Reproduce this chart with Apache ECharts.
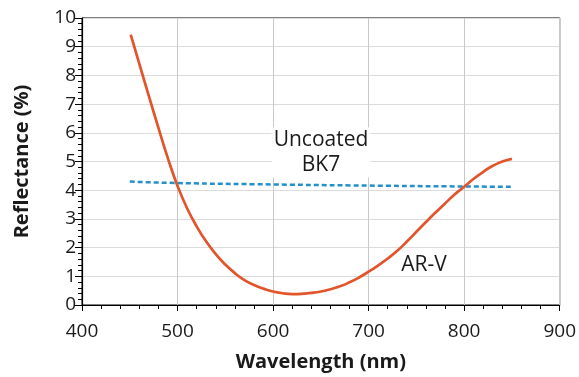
<!DOCTYPE html>
<html><head><meta charset="utf-8">
<script src="https://cdn.jsdelivr.net/npm/echarts@6/dist/echarts.min.js"></script>
<style>html,body{margin:0;padding:0;background:#fff}#c{width:579px;height:377px}</style>
</head><body><div id="c"></div>
<script>
const arvWavelength = [451,460,470,480,490,500,510,520,530,540,550,560,570,580,590,600,610,620,630,640,650,660,670,680,690,700,710,720,730,740,750,760,770,780,790,800,810,820,830,840,850];
const arvReflectance = [9.42,8.4,7.28,6.17,5.1,4.15,3.37,2.74,2.21,1.77,1.41,1.11,0.87,0.7,0.57,0.47,0.41,0.38,0.39,0.42,0.47,0.55,0.65,0.79,0.96,1.16,1.38,1.62,1.89,2.21,2.55,2.89,3.22,3.54,3.85,4.12,4.4,4.64,4.85,5.0,5.09];
const bk7Wavelength = [450,500,600,700,800,850];
const bk7Reflectance = [4.30,4.25,4.20,4.16,4.13,4.12];
const xTicks = [400,500,600,700,800,900];
const yTicks = [0,1,2,3,4,5,6,7,8,9,10];

const font = "'Open Sans', 'Noto Sans', sans-serif";
const chart = echarts.init(document.getElementById('c'));
chart.setOption({
  animation: false,
  grid: {left: 82, right: 18, top: 18, bottom: 70, show: true, borderColor: '#000', borderWidth: 1},
  xAxis: {
    type: 'value', min: xTicks[0], max: xTicks[xTicks.length-1], interval: 100,
    name: 'Wavelength (nm)', nameLocation: 'middle', nameGap: 47,
    nameTextStyle: {fontFamily: font, fontSize: 20, fontWeight: 'bold', color: '#1a1a1a'},
    axisLine: {lineStyle: {color: '#000', width: 1.2}},
    axisTick: {length: 6, lineStyle: {color: '#000'}},
    minorTick: {show: true, splitNumber: 5, length: 4, lineStyle: {color: '#000'}},
    axisLabel: {fontFamily: font, fontSize: 19, color: '#1a1a1a', margin: 17},
    splitLine: {show: true, lineStyle: {color: '#c9c9c9', width: 1}}
  },
  yAxis: {
    type: 'value', min: yTicks[0], max: yTicks[yTicks.length-1], interval: 1,
    name: 'Reflectance (%)', nameLocation: 'middle', nameGap: 50,
    nameTextStyle: {fontFamily: font, fontSize: 20, fontWeight: 'bold', color: '#1a1a1a'},
    axisLine: {show: true, lineStyle: {color: '#000', width: 1.2}},
    axisTick: {show: true, length: 7, lineStyle: {color: '#000'}},
    minorTick: {show: true, splitNumber: 5, length: 4, lineStyle: {color: '#000'}},
    axisLabel: {fontFamily: font, fontSize: 19, color: '#1a1a1a', margin: 6},
    splitLine: {show: true, lineStyle: {color: '#dcdcdc', width: 1}}
  },
  series: [
    {type: 'line', name: 'Uncoated BK7', data: bk7Wavelength.map((w,i)=>[w,bk7Reflectance[i]]),
     showSymbol: false, smooth: true, lineStyle: {color: '#2390c9', width: 2.5, type: [5,3]}, z: 3},
    {type: 'line', name: 'AR-V', data: arvWavelength.map((w,i)=>[w,arvReflectance[i]]),
     showSymbol: false, smooth: true, lineStyle: {color: '#e2542a', width: 2.7}, z: 4}
  ],
  graphic: [
    {type: 'text', x: 321, y: 152.5, style: {text: 'Uncoated\nBK7', fontFamily: font, fontSize: 21, fill: '#1a1a1a', align: 'center', verticalAlign: 'middle', lineHeight: 25, backgroundColor: '#fff', padding: [0,2]}, z: 10},
    {type: 'text', x: 424, y: 265, style: {text: 'AR-V', fontFamily: font, fontSize: 21, fill: '#1a1a1a', align: 'center', verticalAlign: 'middle', backgroundColor: '#fff', padding: [0,2]}, z: 10}
  ]
});
</script></body></html>
